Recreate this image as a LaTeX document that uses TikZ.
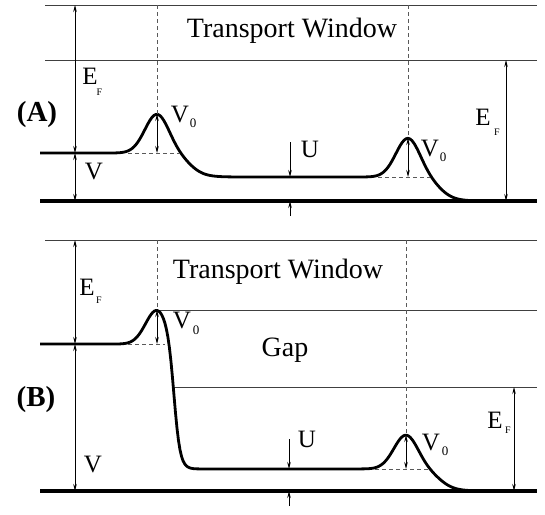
\documentclass[tikz,border=0pt]{standalone}
\usepackage{fontspec}
\setmainfont{Liberation Serif}
\usetikzlibrary{arrows.meta}
\begin{document}
\begin{tikzpicture}[x=1pt,y=-1pt,
  declare function={S(\x)=1/(1+exp(-2*max(-4,min(4,\x)))); G(\x)=exp(-min(\x*\x,9));},
  thinline/.style={line width=0.9pt, draw=black!75},
  dashline/.style={line width=0.8pt, draw=black!65, dash pattern=on 4pt off 3pt},
  curve/.style={line width=2.8pt, line join=round},
  baseline/.style={line width=3.2pt},
  dim/.style={line width=0.7pt, {Stealth[length=7pt,width=3.5pt]}-{Stealth[length=7pt,width=3.5pt]}},
  arr/.style={line width=0.7pt, -{Stealth[length=7pt,width=3.5pt]}},
  lbl/.style={inner sep=0pt, font=\fontsize{25}{25}\selectfont},
  sub/.style={inner sep=0pt, font=\fontsize{10}{10}\selectfont},
  zero/.style={inner sep=0pt, font=\fontsize{13}{13}\selectfont},
  big/.style={inner sep=0pt, font=\fontsize{28}{28}\selectfont},
  panel/.style={inner sep=0pt, font=\fontsize{29}{29}\selectfont\bfseries}]
\useasboundingbox (0,0) rectangle (545,514);

% ================= Panel A =================
\coordinate (aT1) at (45,5);   \coordinate (aT2) at (537,5);
\coordinate (aW1) at (45,60);  \coordinate (aW2) at (537,60);
\coordinate (aB1) at (40,201); \coordinate (aB2) at (537,201);
\draw[thinline] (aT1) -- (aT2);
\draw[thinline] (aW1) -- (aW2);
\draw[baseline] (aB1) -- (aB2);
\draw[curve] plot[domain=40:490, samples=226]
  (\x, {153 + 24*S((\x-190)/15) + 24*S((\x-440)/15) - 39*G((\x-157)/17) - 39*G((\x-408)/17)});

\coordinate (aP1) at (157,114); \coordinate (aP1t) at (157,5);
\coordinate (aP2) at (408,138); \coordinate (aP2t) at (408,5);
\coordinate (aL) at (157,153);  \coordinate (aR) at (408,177);
\draw[dashline] (aP1t) -- (aP1);
\draw[dashline] (aP2t) -- (aP2);
\coordinate (aD1a) at (128,153); \coordinate (aD1b) at (180,153);
\coordinate (aD2a) at (378,177); \coordinate (aD2b) at (430,177);
\draw[dashline] (aD1a) -- (aD1b);
\draw[dashline] (aD2a) -- (aD2b);

\coordinate (aEFt) at (75,5); \coordinate (aEFb) at (75,153); \coordinate (aVb) at (75,201);
\draw[dim] (aEFt) -- (aEFb);
\draw[dim] (aEFb) -- (aVb);
\draw[dim] (aP1) -- (aL);
\draw[dim] (aP2) -- (aR);
\coordinate (aEF2t) at (506,60); \coordinate (aEF2b) at (506,201);
\draw[dim] (aEF2t) -- (aEF2b);
\coordinate (aU1) at (290,142); \coordinate (aU2) at (290,177);
\coordinate (aU3) at (290,216); \coordinate (aU4) at (290,201);
\draw[arr] (aU1) -- (aU2);
\draw[arr] (aU3) -- (aU4);

\node[big] (aTW) at (292,31) {Transport Window};
\node[panel] (aPanel) at (37,115) {(A)};
\node[lbl] (aE1) at (90,76) {E};   \node[sub] (aF1) at (99.5,92) {F};
\node[lbl] (aV) at (94,172) {V};
\node[lbl] (aV01) at (180,115) {V}; \node[zero] (aZ1) at (193,123) {0};
\node[lbl] (aUl) at (310,149) {U};
\node[lbl] (aV02) at (430,149) {V}; \node[zero] (aZ2) at (443,157) {0};
\node[lbl] (aE2) at (483,117) {E};  \node[sub] (aF2) at (497,132) {F};

% ================= Panel B =================
\coordinate (bT1) at (45,240);   \coordinate (bT2) at (537,240);
\coordinate (bW1) at (157,310);  \coordinate (bW2) at (537,310);
\coordinate (bG1) at (173,387);  \coordinate (bG2) at (537,387);
\coordinate (bB1) at (40,491);   \coordinate (bB2) at (537,491);
\draw[thinline] (bT1) -- (bT2);
\draw[thinline] (bW1) -- (bW2);
\draw[thinline] (bG1) -- (bG2);
\draw[baseline] (bB1) -- (bB2);
\draw[curve] plot[domain=40:490, samples=300]
  (\x, {344 + 125*S((\x-174)/6) + 22*S((\x-440)/15) - 34*G((\x-157)/16) - 34*G((\x-406)/17)});

\coordinate (bP1) at (157,310); \coordinate (bP1t) at (157,240);
\coordinate (bP2) at (406,435); \coordinate (bP2t) at (406,240);
\coordinate (bL) at (157,344);  \coordinate (bR) at (406,469);
\draw[dashline] (bP1t) -- (bP1);
\draw[dashline] (bP2t) -- (bP2);
\coordinate (bD1a) at (128,344); \coordinate (bD1b) at (165,344);
\coordinate (bD2a) at (375,469); \coordinate (bD2b) at (428,469);
\draw[dashline] (bD1a) -- (bD1b);
\draw[dashline] (bD2a) -- (bD2b);

\coordinate (bEFt) at (75,240); \coordinate (bEFb) at (75,344); \coordinate (bVb) at (75,491);
\draw[dim] (bEFt) -- (bEFb);
\draw[dim] (bEFb) -- (bVb);
\draw[dim] (bP1) -- (bL);
\draw[dim] (bP2) -- (bR);
\coordinate (bEF2t) at (514,387); \coordinate (bEF2b) at (514,491);
\draw[dim] (bEF2t) -- (bEF2b);
\coordinate (bU1) at (289,439); \coordinate (bU2) at (289,469);
\coordinate (bU3) at (289,506); \coordinate (bU4) at (289,491);
\draw[arr] (bU1) -- (bU2);
\draw[arr] (bU3) -- (bU4);

\node[big] (bTW) at (278,272) {Transport Window};
\node[big] (bGap) at (285,350) {Gap};
\node[panel] (bPanel) at (36,400) {(B)};
\node[lbl] (bE1) at (87,287) {E};   \node[sub] (bF1) at (99,300) {F};
\node[lbl] (bV) at (93,464) {V};
\node[lbl] (bV01) at (182,320) {V}; \node[zero] (bZ1) at (196,330) {0};
\node[lbl] (bUl) at (307,439) {U};
\node[lbl] (bV02) at (431,442) {V}; \node[zero] (bZ2) at (445,451) {0};
\node[lbl] (bE2) at (495,420) {E};  \node[sub] (bF2) at (508,430) {F};
\end{tikzpicture}
\end{document}
